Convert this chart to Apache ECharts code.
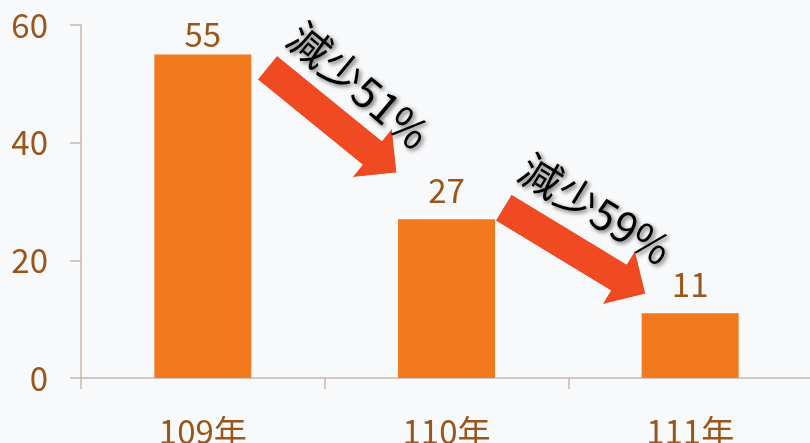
<!DOCTYPE html>
<html>
<head>
<meta charset="utf-8">
<script src="https://cdn.jsdelivr.net/npm/echarts@6/dist/echarts.min.js"></script>
<style>
html,body{margin:0;padding:0;background:#f8f9fb;}
#main{width:810px;height:443px;}
</style>
</head>
<body>
<div id="main"></div>
<script>
const categories = ['109年', '110年', '111年'];
const values = [55, 27, 11];
const changeLabels = ['減少51%', '減少59%'];
const yMin = 0, yMax = 60, yInterval = 20;

const FONT = '"Noto Sans CJK TC", "Noto Sans", sans-serif';
const BROWN = '#9b5519';
const AXIS = '#cbb6ae';
const BAR = '#f3791e';
const ARROW = '#f04a22';

const labelDistance = [3, 12, 12];

const chart = echarts.init(document.getElementById('main'));
chart.setOption({
  backgroundColor: '#f8f9fb',
  animation: false,
  grid: { left: 81, top: 25, width: 731, height: 353, containLabel: false, outerBoundsMode: 'none' },
  xAxis: {
    type: 'category',
    data: categories,
    axisLine: { show: true, lineStyle: { color: AXIS, width: 1.5 } },
    axisTick: { show: true, length: 11, lineStyle: { color: AXIS, width: 1.5 } },
    axisLabel: { color: BROWN, fontSize: 33, fontFamily: FONT, margin: 37 }
  },
  yAxis: {
    type: 'value',
    min: yMin, max: yMax, interval: yInterval,
    axisLine: { show: true, lineStyle: { color: AXIS, width: 1.5 } },
    axisTick: { show: true, length: 11, lineStyle: { color: AXIS, width: 1.5 } },
    splitLine: { show: false },
    axisLabel: { color: BROWN, fontSize: 33, fontFamily: FONT, margin: 33 }
  },
  series: [{
    type: 'bar',
    barWidth: 97,
    itemStyle: { color: BAR },
    label: { show: true, position: 'top', color: BROWN, fontSize: 33, fontFamily: FONT },
    data: values.map((v, i) => ({ value: v, label: { distance: labelDistance[i] } }))
  }]
});

// annotation arrows between consecutive bars
const tailOff = [[64.4, 13.1], [56.9, -11.7]];
const tipOff = [[-49.6, -46.2], [-44.3, -19.3]];
const textOff = [[156, 31], [149, -10]];
const textAngle = [40, 31.5];
const shaftW = 31, headW = 64, headL = 32;

const graphics = [];
for (let k = 0; k < changeLabels.length; k++) {
  const a = chart.convertToPixel({ seriesIndex: 0 }, [k, values[k]]);
  const b = chart.convertToPixel({ seriesIndex: 0 }, [k + 1, values[k + 1]]);
  const T = [a[0] + tailOff[k][0], a[1] + tailOff[k][1]];
  const P = [b[0] + tipOff[k][0], b[1] + tipOff[k][1]];
  const dx = P[0] - T[0], dy = P[1] - T[1];
  const L = Math.hypot(dx, dy);
  const u = [dx / L, dy / L];
  const n = [-u[1], u[0]];
  const B = [P[0] - u[0] * headL, P[1] - u[1] * headL];
  const pt = (o, s) => [o[0] + n[0] * s, o[1] + n[1] * s];
  graphics.push({
    type: 'polygon',
    shape: { points: [pt(T, shaftW / 2), pt(B, shaftW / 2), pt(B, headW / 2), P, pt(B, -headW / 2), pt(B, -shaftW / 2), pt(T, -shaftW / 2)] },
    style: { fill: ARROW, stroke: '#ffffff', lineWidth: 1 },
    z: 100
  });
  graphics.push({
    type: 'text',
    x: a[0] + textOff[k][0],
    y: a[1] + textOff[k][1],
    rotation: -textAngle[k] * Math.PI / 180,
    style: {
      text: changeLabels[k],
      fontSize: 42,
      fontFamily: FONT,
      fill: '#000000',
      align: 'center',
      verticalAlign: 'middle',
      textShadowColor: 'rgba(0,0,0,0.6)',
      textShadowBlur: 4,
      textShadowOffsetX: 2,
      textShadowOffsetY: 2
    },
    z: 101
  });
}
chart.setOption({ graphic: graphics });
</script>
</body>
</html>
